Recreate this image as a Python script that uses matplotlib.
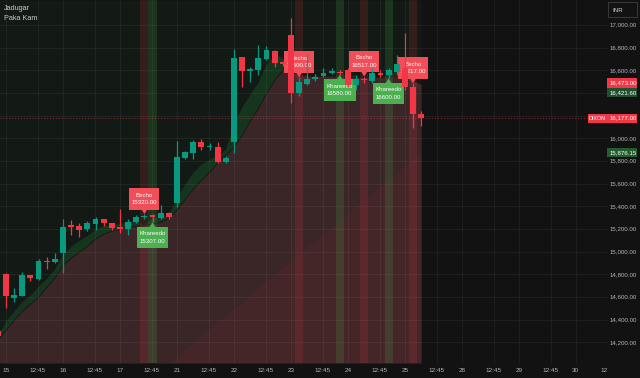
import matplotlib
matplotlib.use('Agg')
import matplotlib.pyplot as plt
from matplotlib.patches import Polygon, Rectangle
from matplotlib.transforms import blended_transform_factory

plt.rcParams['font.family'] = ['Liberation Sans', 'DejaVu Sans']

# ---------------- data ----------------
bar_index = list(range(-1, 52))
opens = [14303, 14803, 14594, 14611, 14791, 14759, 14918, 14909, 14985, 15233, 15226,
         15197, 15247, 15288, 15250, 15220, 15197, 15262, 15303, 15321, 15297, 15338,
         15427, 15826, 15873, 15968, 15920, 15926, 15791, 15970, 16715, 16597, 16603,
         16697, 16773, 16670, 16916, 16403, 16479, 16521, 16550, 16579, 16588, 16603,
         16468, 16524, 16509, 16574, 16559, 16588, 16618, 16450, 16217]
highs = [14320, 14810, 14677, 14818, 14795, 14933, 14950, 14985, 15288, 15279, 15250,
         15274, 15309, 15290, 15253, 15379, 15286, 15321, 15332, 15330, 15412, 15350,
         15979, 15890, 15985, 15997, 15961, 15968, 15840, 16786, 16720, 16632, 16824,
         16815, 16780, 16680, 17059, 16538, 16740, 16570, 16620, 16620, 16600, 16620,
         16559, 16545, 16620, 16600, 16620, 16735, 16927, 16486, 16244]
lows = [14240, 14505, 14558, 14605, 14744, 14750, 14847, 14900, 14812, 15147, 15132,
        15185, 15191, 15226, 15191, 15162, 15150, 15250, 15291, 15260, 15286, 15286,
        15391, 15815, 15820, 15897, 15897, 15785, 15780, 15873, 16456, 16500, 16559,
        16690, 16632, 16640, 16309, 16373, 16470, 16510, 16540, 16570, 16560, 16450,
        16426, 16485, 16490, 16545, 16530, 16559, 16426, 16088, 16109]
closes = [14256, 14611, 14615, 14794, 14768, 14918, 14909, 14935, 15218, 15220, 15191,
          15250, 15288, 15250, 15206, 15197, 15262, 15309, 15318, 15307, 15338, 15303,
          15833, 15879, 15968, 15921, 15926, 15791, 15826, 16706, 16594, 16609, 16706,
          16779, 16667, 16656, 16397, 16500, 16521, 16538, 16580, 16594, 16577, 16471,
          16521, 16512, 16574, 16562, 16603, 16656, 16450, 16217, 16177]

# indicator lines (read from the fills)
fast_line = [14256, 14379, 14468, 14556, 14609, 14688, 14759, 14838, 14971, 15041, 15094,
             15138, 15191, 15226, 15235, 15244, 15262, 15279, 15228, 15297, 15306, 15315,
             15473, 15588, 15694, 15765, 15809, 15850, 15897, 16118, 16268, 16382, 16488,
             16647, 16735, 16709, 16559, 16515, 16506, 16515, 16532, 16541, 16560, 16556,
             16550, 16520, 16525, 16530, 16565, 16590, 16570, 16462, 16421.6]
slow_line = [14221, 14309, 14397, 14476, 14538, 14600, 14688, 14768, 14882, 14944, 14997,
             15050, 15112, 15156, 15182, 15200, 15218, 15226, 15235, 15244, 15262, 15297,
             15368, 15465, 15553, 15632, 15703, 15782, 15853, 15923, 16029, 16153, 16268,
             16400, 16515, 16603, 16585, 16559, 16550, 16545, 16545, 16548, 16550, 16545,
             16540, 16535, 16535, 16537, 16545, 16555, 16550, 16510, 16473]
trend_x = [20, 51]
trend_y = [14016, 15876.15]

becho_idx = [17, 36, 44, 50]
becho_price = ["15320.00", "16500.00", "16517.00", "16217.00"]
khareedo_idx = [18, 41, 47]
khareedo_price = ["15307.00", "16580.00", "16600.00"]

day_labels = ['15', '16', '17', '21', '22', '23', '24', '25', '28', '29', '30']
day_pos = [0, 7, 14, 21, 28, 35, 42, 49, 56, 63, 70]
mid_label = '12:45'
mid_offset = 3.9
price_ticks = list(range(14200, 17001, 200))
last_price = 16177.0
marker_values = [16473.00, 16421.60, 15876.15]
marker_colors = ['#f23645', '#1f5130', '#255c2f']

# ---------------- layout ----------------
W, H = 640, 378
PLOT_W, PLOT_H = 607, 363
bg = '#121212'
green = '#089981'
red = '#f23645'
txt = '#b2b5be'
FS = 4.4

fig = plt.figure(figsize=(W / 100, H / 100), dpi=100, facecolor=bg)
ax = fig.add_axes([0, 1 - PLOT_H / H, PLOT_W / W, PLOT_H / H])
ax.set_facecolor(bg)
xmin, xmax = -0.737, 73.83
ymin, ymax = 14017.5, 17220.6
ax.set_xlim(xmin, xmax)
ax.set_ylim(ymin, ymax)
for s in ax.spines.values():
    s.set_visible(False)
ax.set_xticks([])
ax.set_yticks([])

XPX = (xmax - xmin) / PLOT_W
YPX = (ymax - ymin) / PLOT_H

# fills
top_edge = [max(a, b) for a, b in zip(fast_line, slow_line)]
ax.fill_between(bar_index, top_edge, ymax, color='#131a15', lw=0, zorder=1)
ax.fill_between(bar_index, ymin, slow_line, color='#3b2627', lw=0, zorder=1)
ax.fill_between(bar_index, slow_line, fast_line,
                where=[f >= s for f, s in zip(fast_line, slow_line)],
                interpolate=True, color='#15351e', lw=0, zorder=1)
ax.fill_between(bar_index, fast_line, slow_line,
                where=[f < s for f, s in zip(fast_line, slow_line)],
                interpolate=True, color=red, alpha=0.08, lw=0, zorder=1.1)
ax.fill_between(trend_x, ymin, trend_y, color=red, alpha=0.05, lw=0, zorder=1.2)

# grid
gcol = (1, 1, 1, 0.05)
for p in price_ticks:
    ax.axhline(p, color=gcol, lw=0.7, zorder=1.5)
for d in day_pos:
    ax.axvline(d, color=gcol, lw=0.7, zorder=1.5)
    ax.axvline(d + mid_offset, color=gcol, lw=0.7, zorder=1.5)

# signal bands
for i in becho_idx:
    ax.axvspan(i - 0.5, i + 0.5, color=red, alpha=0.15, lw=0, zorder=2)
for i in khareedo_idx:
    ax.axvspan(i - 0.5, i + 0.5, color='#4caf50', alpha=0.18, lw=0, zorder=2)

# current price line
ax.axhline(last_price, color=red, alpha=0.55, lw=0.7, ls=(0, (1, 2)), zorder=2.5)

# candles
cols = [green if c >= o else red for o, c in zip(opens, closes)]
bottoms = [min(o, c) for o, c in zip(opens, closes)]
heights = [max(abs(c - o), 1.2 * YPX) for o, c in zip(opens, closes)]
ax.vlines(bar_index, lows, highs, colors=cols, lw=0.9, zorder=5)
ax.bar(bar_index, heights, bottom=bottoms, width=0.72, color=cols, lw=0, zorder=5)

# signal labels
BH, PT = 21.5 * YPX, 4.5 * YPX
for i, lab in zip(becho_idx, becho_price):
    k = bar_index.index(i)
    tip = highs[k]
    col = '#f24e5a'
    BW = 30 * XPX
    ax.add_patch(Polygon([(i - 3 * XPX, tip + PT + 0.5 * YPX), (i + 3 * XPX, tip + PT + 0.5 * YPX), (i, tip)],
                         closed=True, color=col, lw=0, zorder=4))
    ax.add_patch(Rectangle((i - BW / 2, tip + PT), BW, BH, color=col, lw=0, zorder=4))
    ax.text(i, tip + PT + BH / 2, 'Becho\n' + lab, color='white', fontsize=4.4, ha='center',
            va='center', linespacing=1.6, zorder=4.1)
for i, lab in zip(khareedo_idx, khareedo_price):
    k = bar_index.index(i)
    tip = lows[k]
    col = '#4caf50'
    BW = 31.5 * XPX
    ax.add_patch(Polygon([(i - 3 * XPX, tip - PT - 0.5 * YPX), (i + 3 * XPX, tip - PT - 0.5 * YPX), (i, tip)],
                         closed=True, color=col, lw=0, zorder=4))
    ax.add_patch(Rectangle((i - BW / 2, tip - PT - BH), BW, BH, color=col, lw=0, zorder=4))
    ax.text(i, tip - PT - BH / 2, 'Khareedo\n' + lab, color='white', fontsize=4.4, ha='center',
            va='center', linespacing=1.6, zorder=4.1)

# time axis labels
tx = blended_transform_factory(ax.transData, ax.transAxes)
ylab = (PLOT_H - 370) / PLOT_H
for d, lab in zip(day_pos, day_labels):
    ax.text(d, ylab, lab, transform=tx, color=txt, fontsize=4.6, ha='center', va='center', clip_on=False)
    if d + mid_offset < 73:
        ax.text(d + mid_offset, ylab, mid_label, transform=tx, color=txt, fontsize=4.6,
                ha='center', va='center', clip_on=False)
ax.text(73.5, ylab, '12', transform=tx, color=txt, fontsize=4.6, ha='center', va='center', clip_on=False)

# price axis
ty = blended_transform_factory(ax.transAxes, ax.transData)
BOXW = 30 / PLOT_W
BOXH = 9.5 * YPX
all_boxes = sorted(marker_values + [last_price], reverse=True)
# spread overlapping boxes apart (as the trading screen does)
centers = {}
prev = None
for v in all_boxes:
    c = v
    if prev is not None and prev - c < BOXH:
        mid = (prev + c) / 2
        c = mid - BOXH / 2
        centers[all_boxes[all_boxes.index(v) - 1]] = mid + BOXH / 2
    centers[v] = c
    prev = centers[v]

covered = []
for v in all_boxes:
    covered.append((centers[v] - BOXH / 2, centers[v] + BOXH / 2))
for p in price_ticks:
    hidden = any(lo - 2 * YPX < p < hi + 2 * YPX and abs(p - (lo + hi) / 2) < BOXH * 0.8 for lo, hi in covered)
    if hidden:
        continue
    ax.text(610 / PLOT_W, p, f'{p:,.2f}', transform=ty, color=txt, fontsize=FS,
            ha='left', va='center', clip_on=False)

for v, c in zip(marker_values, marker_colors):
    y = centers[v]
    ax.add_patch(Rectangle((607 / PLOT_W, y - BOXH / 2), BOXW, BOXH, transform=ty,
                           color=c, lw=0, clip_on=False, zorder=6))
    ax.text(609.5 / PLOT_W, y, f'{v:,.2f}', transform=ty, color='white', fontsize=FS,
            ha='left', va='center', clip_on=False, zorder=7)
y = centers[last_price]
ax.add_patch(Rectangle((607 / PLOT_W, y - BOXH / 2), BOXW, BOXH, transform=ty,
                       color=red, lw=0, clip_on=False, zorder=6))
ax.text(609.5 / PLOT_W, y, f'{last_price:,.2f}', transform=ty, color='white', fontsize=FS,
        ha='left', va='center', clip_on=False, zorder=7)
ax.add_patch(Rectangle((588 / PLOT_W, y - BOXH / 2), 18.5 / PLOT_W, BOXH, transform=ty,
                       color=red, lw=0, clip_on=False, zorder=6))
ax.text(597.3 / PLOT_W, y, 'DIXON', transform=ty, color='white', fontsize=3.9,
        ha='center', va='center', clip_on=False, zorder=7)

# INR box
fig.patches.append(Rectangle((608 / W, 1 - 17 / H), 29 / W, 15 / H, transform=fig.transFigure,
                             facecolor=bg, edgecolor='#3a3a3a', lw=0.7))
fig.text(612 / W, 1 - 10 / H, 'INR', color='#d1d4dc', fontsize=FS, ha='left', va='center')

# legend
fig.text(4 / W, 1 - 9 / H, 'Jadugar', color='#c8cad0', fontsize=5.2, ha='left', va='center')
fig.text(4 / W, 1 - 19 / H, 'Paka Kam', color='#c8cad0', fontsize=5.2, ha='left', va='center')

fig.savefig('out.png', dpi=100, facecolor=bg)
